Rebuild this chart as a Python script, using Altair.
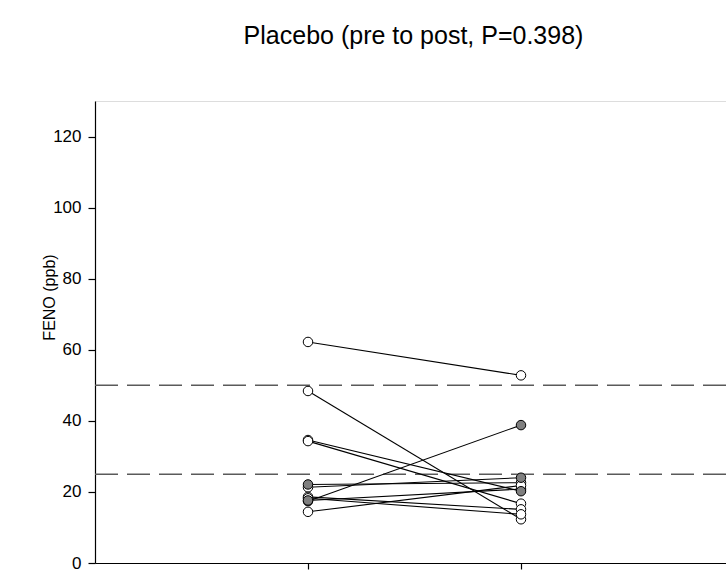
import altair as alt
import pandas as pd

# Data
subjects = list(range(1, 12))
pre_values = [62.2, 48.4, 34.6, 34.3, 22.1, 21.3, 18.6, 17.4, 17.6, 14.4, 18.2]
post_values = [52.8, 12.3, 20.2, 16.7, 22.6, 24.0, 15.1, 38.8, 20.8, 21.8, 13.7]
pre_filled = [False, False, False, False, True, False, False, True, True, False, False]
post_filled = [False, False, True, False, False, True, False, True, False, False, False]
time_positions = [1, 2]
ref_levels = [25, 50]
y_ticks = [0, 20, 40, 60, 80, 100, 120]

rows = []
for s, a, b, fa, fb in zip(subjects, pre_values, post_values, pre_filled, post_filled):
    rows.append({"subject": s, "time": time_positions[0], "FENO": a,
                 "fill": "filled" if fa else "open", "z": 1 if fa else 0})
    rows.append({"subject": s, "time": time_positions[1], "FENO": b,
                 "fill": "filled" if fb else "open", "z": 1 if fb else 0})
df = pd.DataFrame(rows)
ref_df = pd.DataFrame({"level": ref_levels})

x_scale = alt.Scale(domain=[0, 2.9624], nice=False, zero=False)
y_scale = alt.Scale(domain=[0, 130], nice=False)

x_enc = alt.X("time:Q", scale=x_scale,
              axis=alt.Axis(values=time_positions, labels=False, title=None, grid=False,
                            tickSize=6, tickColor="black", domainColor="black",
                            tickWidth=1.2, domainWidth=1.2))
y_enc = alt.Y("FENO:Q", scale=y_scale,
              axis=alt.Axis(values=y_ticks, title="FENO (ppb)", grid=False,
                            tickSize=7, tickColor="black", domainColor="black",
                            tickWidth=1.2, domainWidth=1.2,
                            labelFontSize=17, labelColor="black", labelFont="Liberation Sans",
                            labelPadding=7,
                            titleFontSize=16, titleFont="Liberation Sans", titleColor="black",
                            titleFontWeight="normal", titleX=-46, titleY=196,
                            titleAngle=270, titleAlign="center", titleBaseline="middle"))

rules = alt.Chart(ref_df).mark_rule(color="#5a5a5a", strokeWidth=1.5, strokeDash=[23, 9]).encode(
    y=alt.Y("level:Q", scale=y_scale),
)

lines = alt.Chart(df).mark_line(color="black", strokeWidth=1.1).encode(
    x=x_enc, y=y_enc, detail="subject:N"
)

points = alt.Chart(df).mark_point(filled=True, size=90, stroke="black", strokeWidth=1, opacity=1).encode(
    x=alt.X("time:Q", scale=x_scale),
    y=alt.Y("FENO:Q", scale=y_scale),
    fill=alt.Fill("fill:N", scale=alt.Scale(domain=["open", "filled"], range=["white", "#7f7f7f"]), legend=None),
    order=alt.Order("z:Q", sort="ascending"),
)

chart = alt.layer(rules, lines, points).properties(
    width=631,
    height=462,
    title=alt.TitleParams("Placebo (pre to post, P=0.398)", fontSize=25, font="Liberation Sans",
                          fontWeight="normal", color="black", anchor="middle", offset=52, dx=3),
    autosize=alt.AutoSizeParams(type="none"),
    padding={"left": 95, "top": 101, "right": 0, "bottom": 9},
).configure_view(stroke=None).configure(background="white")

chart.save("out.html", embed_options={"renderer": "svg", "actions": False})
